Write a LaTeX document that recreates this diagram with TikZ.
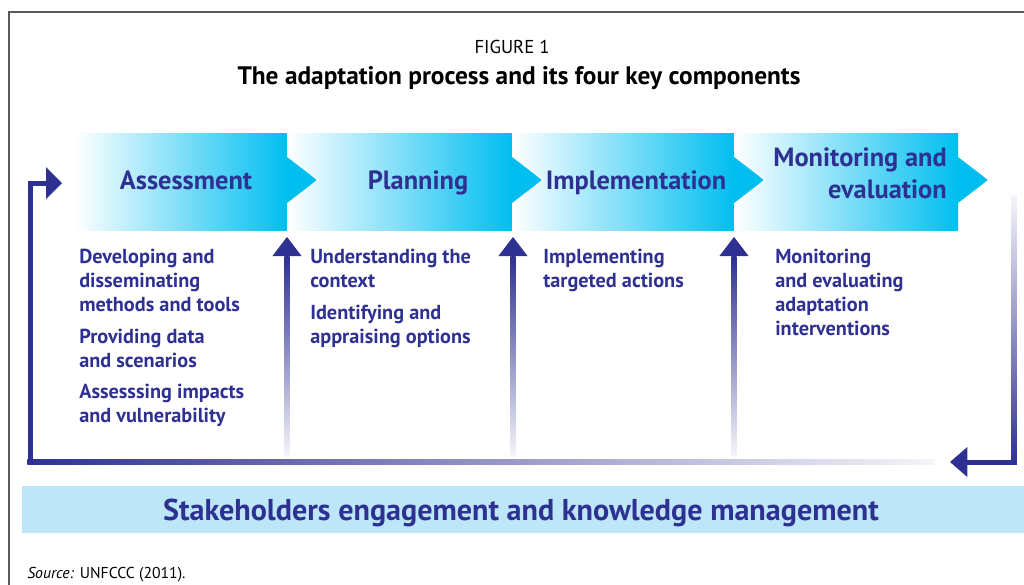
\documentclass[tikz,border=0pt]{standalone}
\usepackage{fontspec}
\setmainfont{PT Sans}
\usetikzlibrary{positioning}
\definecolor{indig}{RGB}{46,49,146}
\definecolor{cyanarr}{RGB}{0,190,240}
\definecolor{bandblue}{RGB}{189,230,249}
\tikzset{
	phase/.style={font=\bfseries\fontsize{19.8}{24}\selectfont, text=indig, inner sep=0pt},
	item/.style={font=\bfseries\fontsize{15.2}{18}\selectfont, text=indig, align=left, anchor=north west, inner sep=0pt},
}

\begin{document}
\begin{tikzpicture}[x=0.75pt, y=-0.75pt]
				\useasboundingbox (0,0) rectangle (1024,585);
				\draw[gray!70!black, line width=1.1pt] (9,585) -- (9,12) -- (1024,12);
				\node[font=\fontsize{14}{16}\selectfont] (fig) at (512,47) {FIGURE 1};
				\node[font=\bfseries\fontsize{19}{22}\selectfont] (title) at (519,78) {The adaptation process and its four key components};
				\foreach \a/\b in {75/287,287/512,512/734,734/958} {
					\shade[left color=white, right color=cyanarr] (\a,133) rectangle (\b,230);
				}
				\foreach \b in {287,512,734,958} {
					\fill[cyanarr] (\b,157) -- (\b+30,180) -- (\b,203) -- cycle;
					\draw[white, line width=0.8pt] (\b+1,155) -- (\b+31,180) -- (\b+1,205);
				}
				\node[phase, anchor=base] (assess) at (186,189) {Assessment};
				\node[phase, anchor=base] (plan) at (418,189) {Planning};
				\node[phase, anchor=base] (impl) at (636,189) {Implementation};
				\node[phase, anchor=east, align=right] (monit) at (947,173) {Monitoring and\\evaluation};
				\node[item] (assessTxt) at (79,249) {Developing and\\disseminating\\methods and tools\\[5.5pt]Providing data\\and scenarios\\[5.5pt]Assesssing impacts\\and vulnerability};
				\node[item] (planTxt) at (310,249) {Understanding the\\context\\[5.5pt]Identifying and\\appraising options};
				\node[item] (implTxt) at (543,249) {Implementing\\targeted actions};
				\node[item] (monitTxt) at (775,249) {Monitoring\\and evaluating\\adaptation\\interventions};
				\foreach \x [count=\i] in {287,513,734} {
					\coordinate (up\i) at (\x,256);
					\coordinate (foot\i) at (\x,456);
					\shade[top color=indig, bottom color=indig!5] ([xshift=-1.9pt]foot\i) rectangle ([xshift=1.9pt]up\i);
					\fill[indig] ([xshift=-10.9pt]up\i) -- ([yshift=14.3pt]up\i) -- ([xshift=10.9pt]up\i) -- cycle;
				}
				\coordinate (loopL) at (30,462);
				\coordinate (loopLT) at (30,183);
				\coordinate (fade) at (935,462);
				\coordinate (loopR) at (1014,462);
				\coordinate (loopRT) at (1014,195);
				\shade[left color=indig, right color=indig!5] ([shift={(-1.9pt,1.9pt)}]loopL) rectangle ([yshift=-1.9pt]fade);
				\draw[indig, line width=3.75pt] ([yshift=-1.9pt]loopL) -- (loopLT) -- ([xshift=14pt]loopLT);
				\fill[indig] ([shift={(12pt,12pt)}]loopLT) -- ([xshift=24pt]loopLT) -- ([shift={(12pt,-12pt)}]loopLT) -- cycle;
				\shade[top color=indig!5, bottom color=indig] ([xshift=-1.9pt]loopRT) rectangle ([shift={(1.9pt,-1.9pt)}]loopR);
				\draw[indig, line width=3.75pt] ([xshift=1.9pt]loopR) -- ([xshift=-36pt]loopR);
				\fill[indig] ([shift={(-35pt,11.25pt)}]loopR) -- ([xshift=-48pt]loopR) -- ([shift={(-35pt,-11.25pt)}]loopR) -- cycle;
				\fill[bandblue] (22,486) rectangle (1024,533);
				\node[font=\bfseries\fontsize{22.6}{28}\selectfont, text=indig, anchor=base] (stake) at (521,520) {Stakeholders engagement and knowledge management};
				\node[font=\fontsize{11.8}{14}\selectfont, anchor=base west, inner sep=0pt] (src) at (27,578) {\textit{Source:} UNFCCC (2011).};
\end{tikzpicture}
\end{document}
